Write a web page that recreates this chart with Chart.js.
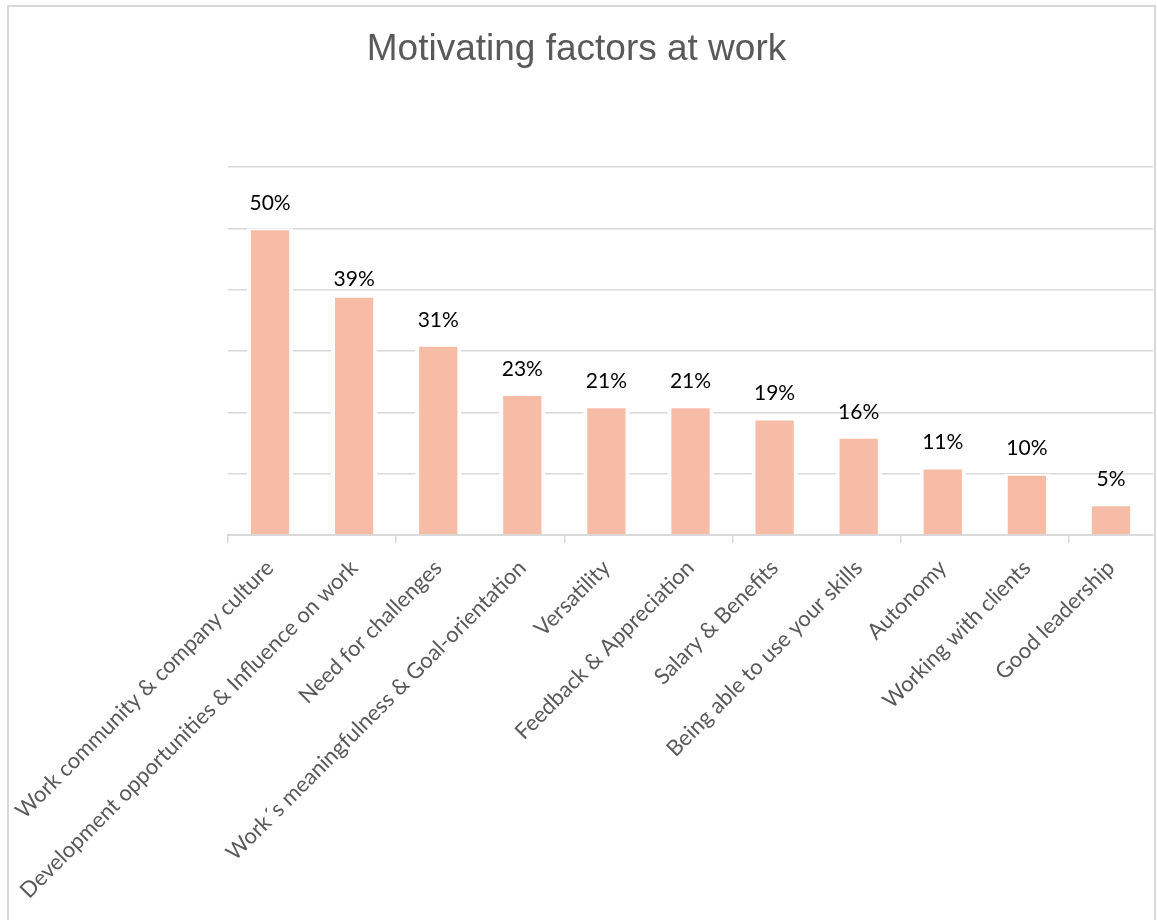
<!DOCTYPE html>
<html>
<head>
<meta charset="utf-8">
<script src="https://cdn.jsdelivr.net/npm/chart.js@4.4.1/dist/chart.umd.min.js"></script>
<style>
  html, body { margin: 0; padding: 0; background: #ffffff; }
  #wrap { width: 1157px; height: 920px; }
</style>
</head>
<body>
<div id="wrap"><canvas id="c" width="1157" height="920"></canvas></div>
<script>
const titleText = "Motivating factors at work";
const categories = [
  "Work community & company culture",
  "Development opportunities & Influence on work",
  "Need for challenges",
  "Work´s meaningfulness & Goal-orientation",
  "Versatility",
  "Feedback & Appreciation",
  "Salary & Benefits",
  "Being able to use your skills",
  "Autonomy",
  "Working with clients",
  "Good leadership"
];
const values = [50, 39, 31, 23, 21, 21, 19, 16, 11, 10, 5];
const yMin = 0;
const yMax = 60;
const yStep = 10;

const frame = {
  id: 'frame',
  beforeDraw(chart) {
    const c = chart.ctx;
    c.save();
    c.fillStyle = '#ffffff';
    c.fillRect(0, 0, chart.width, chart.height);
    c.strokeStyle = '#d9d9d9';
    c.lineWidth = 2;
    c.strokeRect(8, 6, 1147, 1000);
    c.restore();
  }
};

const dataLabels = {
  id: 'dataLabels',
  afterDatasetsDraw(chart, args, opts) {
    const c = chart.ctx;
    const meta = chart.getDatasetMeta(0);
    c.save();
    c.font = opts.font;
    c.fillStyle = opts.color;
    c.textAlign = 'center';
    c.textBaseline = 'middle';
    meta.data.forEach((bar, i) => {
      const extra = (opts.extraOffset && opts.extraOffset[i]) || 0;
      c.fillText(values[i] + '%', bar.x, bar.y - opts.offset + extra);
    });
    c.restore();
  }
};

new Chart(document.getElementById('c'), {
  type: 'bar',
  data: {
    labels: categories,
    datasets: [{
      data: values,
      backgroundColor: '#F6BCA5',
      borderColor: '#ffffff',
      borderWidth: { top: 2, left: 4, right: 4, bottom: 0 },
      borderSkipped: 'start',
      barPercentage: 0.55,
      categoryPercentage: 1.0
    }]
  },
  options: {
    responsive: false,
    animation: false,
    devicePixelRatio: 1,
    layout: { padding: { left: 0, right: 4, top: 0, bottom: 0 } },
    plugins: {
      legend: { display: false },
      tooltip: { enabled: false },
      title: {
        display: true,
        text: titleText,
        color: '#595959',
        font: { family: 'Liberation Sans', size: 37, weight: 'normal' },
        padding: { top: 28, bottom: 94.6 }
      },
      dataLabels: {
        font: '21px Lato',
        color: '#000000',
        offset: 25,
        extraOffset: { 1: 8 }
      }
    },
    scales: {
      x: {
        type: 'category',
        offset: true,
        grid: {
          offset: true,
          drawOnChartArea: false,
          drawTicks: true,
          tickLength: 8,
          lineWidth: 1.5,
          color: (ctx) => (ctx.index % 2 === 0 ? '#d9d9d9' : 'rgba(0,0,0,0)')
        },
        border: { display: true, color: '#d9d9d9', width: 2 },
        ticks: {
          color: '#595959',
          font: { family: 'Lato', size: 22 },
          maxRotation: 45,
          minRotation: 45,
          autoSkip: false,
          padding: 12
        },
        afterFit: (s) => { s.height = 385; s.paddingLeft = 0; s.paddingRight = 0; }
      },
      y: {
        min: yMin,
        max: yMax,
        ticks: { display: false, stepSize: yStep },
        grid: { color: '#d9d9d9', lineWidth: 1.5, drawTicks: false },
        border: { display: false },
        afterFit: (s) => { s.width = 228; s.paddingTop = 0; s.paddingBottom = 0; }
      }
    }
  },
  plugins: [frame, dataLabels]
});
</script>
</body>
</html>
